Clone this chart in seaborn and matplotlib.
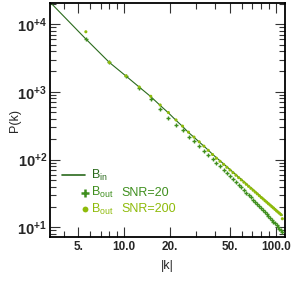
import pandas as pd
import matplotlib
matplotlib.use("Agg")
import matplotlib.pyplot as plt
import seaborn as sns
from matplotlib.ticker import FixedLocator, LogLocator, NullFormatter

# |k| shells and power spectra
k_in = [3.3, 5.6, 8.0, 10.3, 12.6, 15.0, 17.3, 19.6, 22.0, 24.3, 26.6, 28.9, 31.3, 33.6,
        35.9, 38.3, 40.6, 42.9, 45.3, 47.6, 49.9, 52.2, 54.6, 56.9, 59.2, 61.6, 63.9, 66.2,
        68.5, 70.9, 73.2, 75.5, 77.9, 80.2, 82.5, 84.9, 87.2, 89.5, 91.8, 94.2, 96.5, 98.8,
        101.2, 103.5, 105.8, 108.2, 110.5]
p_in = [20400, 6030, 2720, 1710, 1175, 851, 631, 490, 380, 309, 251, 214, 182, 158, 138,
        120, 107, 96.2, 86.5, 78.5, 71.6, 65.5, 60.0, 55.3, 51.2, 47.3, 44.1, 41.1, 38.5,
        36.0, 33.8, 31.8, 29.9, 28.2, 26.7, 25.2, 24.0, 22.8, 21.7, 20.6, 19.7, 18.8, 17.9,
        17.1, 16.4, 15.7, 15.1]

k_out = k_in[1:]
p_out_snr20 = [6030, 2720, 1710, 1150, 776, 550, 417, 324, 269, 219, 186, 158, 136, 117,
               102, 90.1, 79.8, 70.8, 63.5, 57.2, 51.6, 46.7, 42.5, 38.8, 35.4, 32.6, 30.0,
               27.7, 25.6, 23.7, 22.0, 20.5, 19.1, 17.8, 16.6, 15.6, 14.6, 13.7, 12.9, 12.1,
               11.5, 10.8, 10.2, 9.6, 9.1, 8.6]
p_out_snr200 = [7710, 2720, 1720, 1180, 860, 640, 495, 385, 312, 254, 215, 183, 158, 137,
                119, 105, 94.5, 85.0, 77.0, 70.2, 64.2, 58.8, 54.2, 50.2, 46.4, 43.2, 40.3,
                37.7, 35.3, 33.1, 31.2, 29.3, 27.6, 26.2, 24.7, 23.5, 22.3, 21.3, 20.2, 19.3,
                18.4, 17.5, 16.8, 16.1, 15.4, 13.4]

x_ticks = [5, 10, 20, 50, 100]
x_ticklabels = ["5.", "10.0", "20.", "50.", "100.0"]
y_ticks = [10, 100, 1000, 10000]
y_ticklabels = [r"$\mathbf{10^{+1}}$", r"$\mathbf{10^{+2}}$", r"$\mathbf{10^{+3}}$", r"$\mathbf{10^{+4}}$"]

c_in = "#2a6a1c"
c_20 = "#3f8f1e"
c_200 = "#8fbb0a"

sns.set_theme(style="ticks")
plt.rcParams["font.family"] = ["Liberation Sans", "DejaVu Sans"]
plt.rcParams["mathtext.fontset"] = "custom"
plt.rcParams["mathtext.rm"] = "Liberation Sans"
plt.rcParams["mathtext.it"] = "Liberation Sans:italic"
plt.rcParams["mathtext.bf"] = "Liberation Sans:bold"

df_in = pd.DataFrame({"k": k_in, "P": p_in})
df_out = pd.DataFrame({"k": k_out, "snr20": p_out_snr20, "snr200": p_out_snr200})

fig = plt.figure(figsize=(2.95, 2.86), dpi=100)
ax = fig.add_axes([0.1695, 0.1713, 0.7965, 0.8182])

sns.lineplot(data=df_in, x="k", y="P", color=c_in, lw=0.8, sort=False, ax=ax)
sns.scatterplot(data=df_out, x="k", y="snr20", marker="+", s=9, linewidth=1.0,
                color=c_20, ax=ax, zorder=3)
sns.scatterplot(data=df_out, x="k", y="snr200", marker="o", s=5, edgecolor="none",
                color=c_200, ax=ax, zorder=4)

ax.set_xscale("log")
ax.set_yscale("log")
ax.set_xlim(3.25, 115)
ax.set_ylim(7.2, 20500)

ax.xaxis.set_major_locator(FixedLocator(x_ticks))
ax.set_xticklabels(x_ticklabels, fontsize=8.5, fontweight="bold")
ax.xaxis.set_minor_locator(LogLocator(base=10, subs=[2, 3, 4, 5, 6, 7, 8, 9]))
ax.xaxis.set_minor_formatter(NullFormatter())
ax.yaxis.set_major_locator(FixedLocator(y_ticks))
ax.set_yticklabels(y_ticklabels, fontsize=10.5)
ax.yaxis.set_minor_locator(LogLocator(base=10, subs=[2, 3, 4, 5, 6, 7, 8, 9]))
ax.yaxis.set_minor_formatter(NullFormatter())

ax.tick_params(which="both", direction="in", top=True, right=True, color="#333333", width=0.8)
ax.tick_params(which="major", length=7)
ax.tick_params(which="minor", length=4.5)
ax.tick_params(axis="x", pad=3)
ax.tick_params(axis="y", pad=2)
for s in ax.spines.values():
    s.set_linewidth(1.3)
    s.set_color("black")

ax.set_xlabel("|k|", fontsize=9)
ax.set_ylabel("P(k)", fontsize=9)
ax.xaxis.set_label_coords(0.5, -0.1)
ax.yaxis.set_label_coords(-0.125, 0.5)

# legend
ax.plot([0.051, 0.149], [0.265, 0.265], color=c_in, lw=1.2, transform=ax.transAxes)
ax.text(0.174, 0.265, r"B$_{\rm in}$", color=c_in, fontsize=9, va="center", transform=ax.transAxes)
ax.plot([0.148], [0.189], marker="+", ms=5.5, mew=1.8, color=c_20, transform=ax.transAxes)
ax.text(0.174, 0.189, r"B$_{\rm out}$", color=c_20, fontsize=9, va="center", transform=ax.transAxes)
ax.text(0.305, 0.189, "SNR=20", color=c_20, fontsize=9, va="center", transform=ax.transAxes)
ax.plot([0.148], [0.118], marker="o", ms=4.2, mec="none", color=c_200, transform=ax.transAxes)
ax.text(0.174, 0.118, r"B$_{\rm out}$", color=c_200, fontsize=9, va="center", transform=ax.transAxes)
ax.text(0.305, 0.118, "SNR=200", color=c_200, fontsize=9, va="center", transform=ax.transAxes)

fig.savefig("out.png", dpi=100)
plt.close(fig)
